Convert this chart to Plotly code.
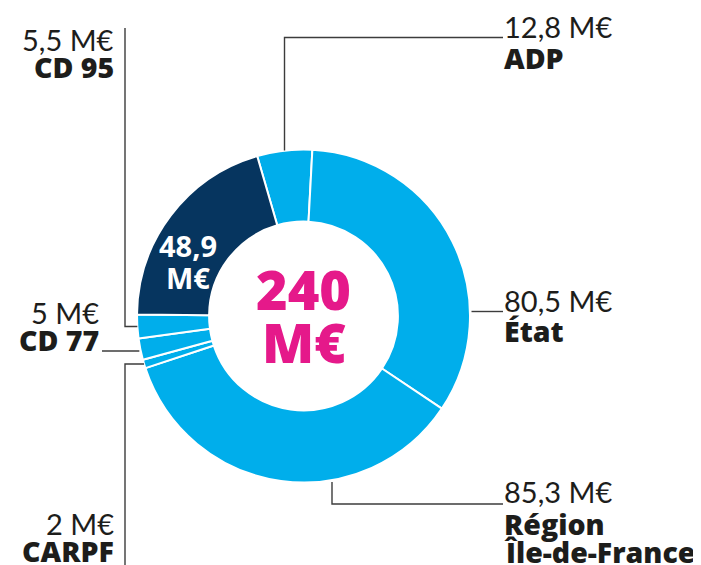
import math
import plotly.graph_objects as go

# ---------------- data ----------------
funders = ["ADP", "État", "Région<br>Île-de-France", "CARPF", "CD 77", "CD 95", "Autres"]
amounts = [12.8, 80.5, 85.3, 2, 5, 5.5, 48.9]
amount_labels = ["12,8 M€", "80,5 M€", "85,3 M€", "2 M€", "5 M€", "5,5 M€", "48,9 M€"]
total_label = "M€"

# ---------------- style ----------------
W, H = 701, 565
OFF = 8  # page body margin
LIGHT = "#00AEEB"
NAVY = "#06355F"
MAGENTA = "#E5198A"
INK = "#1D1D1B"
LINE = "#3C3C3C"
FONT_REG = "Lato"
FONT_BOLD = "Open Sans"
slice_colors = [LIGHT, LIGHT, LIGHT, LIGHT, LIGHT, LIGHT, NAVY]

cx, cy, R = 303.5, 316.0, 166.5
HOLE = 0.567
ROTATION = -16.15

def px(x):
    return (x - OFF) / W

def py(y):
    return 1 - (y - OFF) / H

fig = go.Figure(go.Pie(
    labels=funders,
    values=amounts,
    sort=False,
    direction="clockwise",
    rotation=ROTATION,
    hole=HOLE,
    textinfo="none",
    hoverinfo="label+value",
    marker=dict(colors=slice_colors, line=dict(color="white", width=2)),
    domain=dict(x=[px(cx - R), px(cx + R)], y=[py(cy + R), py(cy - R)]),
    showlegend=False,
))

# slice mid-angles (deg, clockwise from 12 o'clock) from the data
tot = sum(amounts)
mids = []
acc = ROTATION
for v in amounts:
    span = v / tot * 360
    mids.append(acc + span / 2)
    acc += span

def ring(angle, r=R):
    a = math.radians(angle)
    return cx + r * math.sin(a), cy - r * math.cos(a)

shapes = []
def polyline(points):
    path = "M " + " L ".join(f"{px(x)},{py(y)}" for x, y in points)
    shapes.append(dict(type="path", path=path, xref="paper", yref="paper",
                       line=dict(color=LINE, width=1.4)))

# ADP
x0, y0 = ring(mids[0])
polyline([(x0, y0), (x0, 37.5), (503, 37.5)])
# État
polyline([(471.5, 311.5), (503, 311.5)])
# Région
polyline([(332, 482), (332, 504), (503, 504)])
# CD 95
x0, y0 = ring(mids[5])
polyline([(x0, y0), (125, y0), (125, 28)])
# CD 77
x0, y0 = ring(mids[4])
polyline([(x0 - 1, 351), (102, 351)])
# CARPF
x0, y0 = ring(mids[3])
polyline([(x0, y0), (125, y0), (125, 575)])

annotations = []
def put(x, baseline, text, size, bold=False, anchor="left", color=INK, weight=800):
    ratio = 0.387 if not bold else 0.39
    ymid = baseline - ratio * size
    font = dict(family=FONT_BOLD if bold else FONT_REG, size=size, color=color)
    if bold:
        font["weight"] = weight
    annotations.append(dict(
        x=px(x), y=py(ymid), xref="paper", yref="paper",
        text=text,
        showarrow=False, xanchor=anchor, yanchor="middle",
        font=font, borderpad=0,
    ))

LS = 29
BS = 28.5
# right-hand labels
put(503, 37.5, amount_labels[0], LS)
put(503, 69, funders[0], BS, bold=True)
put(503, 311.5, amount_labels[1], LS)
put(503, 342, funders[1], BS, bold=True)
put(503, 503, amount_labels[2], LS)
put(503, 535, "Région", BS, bold=True)
put(503, 563, "Île-de-France", BS, bold=True)
# left-hand labels
put(115, 51, amount_labels[5], LS, anchor="right")
put(115, 78, funders[5], BS, bold=True, anchor="right")
put(100, 324, amount_labels[4], LS, anchor="right")
put(100, 351, funders[4], BS, bold=True, anchor="right")
put(115, 535, amount_labels[3], LS, anchor="right")
put(115, 562, funders[3], BS, bold=True, anchor="right")

# navy slice value
nav_val, nav_unit = amount_labels[6].split(" ")
put(188, 257, nav_val, 29, bold=True, anchor="center", color="white", weight=700)
put(188, 289, nav_unit, 29, bold=True, anchor="center", color="white", weight=700)

# centre total
put(303.5, 310, f"{tot:.0f}", 54, bold=True, anchor="center", color=MAGENTA)
put(304, 363, total_label, 54, bold=True, anchor="center", color=MAGENTA)

fig.update_layout(
    width=W, height=H,
    margin=dict(l=0, r=0, t=0, b=0),
    paper_bgcolor="white", plot_bgcolor="white",
    shapes=shapes, annotations=annotations,
)

fig.write_html("out.html")
